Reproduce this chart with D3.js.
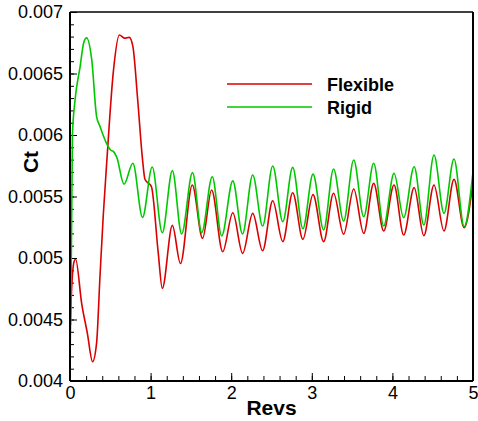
<!DOCTYPE html>
<html>
<head>
<meta charset="utf-8">
<script src="https://cdn.jsdelivr.net/npm/d3@7"></script>
<style>
  html, body { margin: 0; padding: 0; background: #fff; }
  svg { display: block; }
  text { font-family: "Liberation Sans", Arial, Helvetica, sans-serif; }
</style>
</head>
<body>
<svg id="chart" width="478" height="421"></svg>
<script>
// Thrust coefficient history over rotor revolutions
const flexRevs = [0, 0.006, 0.05, 0.07, 0.145, 0.215, 0.28, 0.33, 0.372, 0.413, 0.455, 0.54, 0.612, 0.68, 0.735, 0.78, 0.84, 0.90, 0.93, 0.97, 1.01, 1.095, 1.145,
  1.27, 1.37, 1.517, 1.645, 1.757, 1.895, 2.02, 2.142, 2.267, 2.39, 2.515, 2.64, 2.763, 2.89, 3.015, 3.147, 3.27, 3.395, 3.52, 3.644, 3.768, 3.892,
  4.02, 4.14, 4.27, 4.39, 4.516, 4.64, 4.764, 4.89, 5.0];
const flexCt = [0.00411, 0.0045, 0.00497, 0.00499, 0.00463, 0.00439, 0.004157, 0.00431, 0.00485, 0.00535, 0.00577, 0.00653, 0.006813, 0.006786, 0.006794, 0.00672, 0.006285, 0.0058, 0.00564, 0.00561, 0.00558, 0.00504, 0.004753,
  0.005265, 0.004955, 0.005593, 0.00516, 0.005553, 0.005051, 0.005368, 0.005038, 0.005363, 0.005059, 0.005466, 0.005133, 0.005531, 0.005152, 0.005515, 0.005133, 0.005526, 0.005193, 0.005561, 0.0052, 0.005607, 0.00522,
  0.005593, 0.005187, 0.005572, 0.005181, 0.005593, 0.00522, 0.005639, 0.005246, 0.00562];

const rigidRevs = [0, 0.008, 0.03, 0.062, 0.124, 0.17, 0.205, 0.27, 0.33, 0.372, 0.455, 0.50, 0.54, 0.58, 0.67, 0.78, 0.90, 1.02, 1.145,
  1.27, 1.385, 1.52, 1.634, 1.765, 1.882, 2.02, 2.14, 2.267, 2.39, 2.515, 2.64, 2.763, 2.89, 3.015, 3.147, 3.27, 3.395, 3.52, 3.644, 3.768, 3.892,
  4.02, 4.14, 4.27, 4.39, 4.516, 4.64, 4.764, 4.89, 5.0];
const rigidCt = [0.00617, 0.00446, 0.0060, 0.00628, 0.00655, 0.00675, 0.00679, 0.00661, 0.00615, 0.00607, 0.00593, 0.00588, 0.005865, 0.00582, 0.0056, 0.00577, 0.00533, 0.00574, 0.005205,
  0.00571, 0.005195, 0.005694, 0.005206, 0.005661, 0.005179, 0.005627, 0.005195, 0.005675, 0.00526, 0.005748, 0.005295, 0.005737, 0.005238, 0.005682, 0.005228, 0.005724, 0.0053, 0.005797, 0.005336, 0.00577, 0.00526,
  0.005688, 0.005328, 0.005742, 0.005268, 0.005837, 0.005363, 0.005805, 0.005255, 0.0057];

const xTicks = [0, 1, 2, 3, 4, 5];
const yTicks = [0.004, 0.0045, 0.005, 0.0055, 0.006, 0.0065, 0.007];
const seriesNames = ["Flexible", "Rigid"];
const seriesColors = ["#d80000", "#00c800"];

const svg = d3.select("#chart");
const margin = { left: 70, right: 5, top: 12, bottom: 40 };
const W = 478, H = 421;

const x = d3.scaleLinear().domain([0, 5]).range([margin.left, W - margin.right]);
const y = d3.scaleLinear().domain([0.004, 0.007]).range([H - margin.bottom, margin.top]);

const plotL = x(0), plotR = x(5), plotT = y(0.007), plotB = y(0.004);

svg.append("defs").append("clipPath").attr("id", "plotclip")
  .append("rect").attr("x", plotL).attr("y", plotT - 1)
  .attr("width", plotR - plotL).attr("height", plotB - plotT + 2);

// Inward ticks: major with labels, minor without
const xAxis = d3.axisBottom(x).tickValues(xTicks).tickFormat(d3.format("d"))
  .tickSizeInner(-8).tickSizeOuter(0).tickPadding(5);
const xMinor = d3.axisBottom(x).tickValues(d3.range(0, 5.001, 0.2))
  .tickSizeInner(-5).tickSizeOuter(0).tickFormat("");
const yAxis = d3.axisLeft(y).tickValues(yTicks).tickFormat(d => String(+d.toFixed(4)))
  .tickSizeInner(-7).tickSizeOuter(0).tickPadding(7);
const yMinor = d3.axisLeft(y).tickValues(d3.range(0, 31).map(i => 0.004 + i * 0.0001))
  .tickSizeInner(-4).tickSizeOuter(0).tickFormat("");

function styleAxis(g) {
  g.select(".domain").remove();
  g.selectAll("line").attr("stroke", "#000").attr("stroke-width", 1);
  g.selectAll("text").attr("fill", "#000").attr("font-size", 18)
    .attr("font-family", "'Liberation Sans', Arial, sans-serif");
}

svg.append("g").attr("transform", `translate(0,${plotB})`).call(xMinor).call(styleAxis);
svg.append("g").attr("transform", `translate(0,${plotB})`).call(xAxis).call(styleAxis);
svg.append("g").attr("transform", `translate(${plotL},0)`).call(yMinor).call(styleAxis);
svg.append("g").attr("transform", `translate(${plotL},0)`).call(yAxis).call(styleAxis);

// Curves
const line = d3.line().x(d => x(d[0])).y(d => y(d[1])).curve(d3.curveMonotoneX);
const series = [
  d3.zip(flexRevs, flexCt),
  d3.zip(rigidRevs, rigidCt)
];
const curves = svg.append("g").attr("clip-path", "url(#plotclip)");
series.forEach((pts, i) => {
  curves.append("path").datum(pts)
    .attr("d", line)
    .attr("fill", "none")
    .attr("stroke", seriesColors[i])
    .attr("stroke-width", 1.6)
    .attr("stroke-linejoin", "round");
});

// Frame
svg.append("line").attr("x1", plotL).attr("x2", plotR).attr("y1", plotT).attr("y2", plotT)
  .attr("stroke", "#000").attr("stroke-width", 1.3);
svg.append("line").attr("x1", plotR).attr("x2", plotR).attr("y1", plotT).attr("y2", plotB)
  .attr("stroke", "#000").attr("stroke-width", 2);
svg.append("line").attr("x1", plotL).attr("x2", plotL).attr("y1", plotT).attr("y2", plotB)
  .attr("stroke", "#000").attr("stroke-width", 2);
svg.append("line").attr("x1", plotL).attr("x2", plotR).attr("y1", plotB).attr("y2", plotB)
  .attr("stroke", "#000").attr("stroke-width", 2);

// Axis titles
svg.append("text").attr("x", (plotL + plotR) / 2).attr("y", 415)
  .attr("text-anchor", "middle").attr("font-weight", "bold").attr("font-size", 21)
  .text("Revs");
svg.append("text").attr("transform", "translate(38,162) rotate(-90)")
  .attr("text-anchor", "middle").attr("font-weight", "bold").attr("font-size", 21)
  .text("Ct");

// Legend
const legend = svg.append("g");
seriesNames.forEach((name, i) => {
  const ly = 84 + i * 23;
  legend.append("line").attr("x1", 227).attr("x2", 312).attr("y1", ly).attr("y2", ly)
    .attr("stroke", seriesColors[i]).attr("stroke-width", 1.6);
  legend.append("text").attr("x", 327).attr("y", ly + 6.5)
    .attr("font-weight", "bold").attr("font-size", 18).text(name);
});
</script>
</body>
</html>
